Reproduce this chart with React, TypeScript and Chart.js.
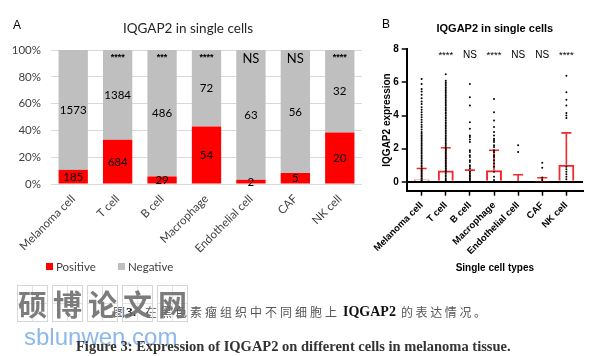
import React, { useEffect, useRef } from 'react';
import { Chart, registerables } from 'chart.js';
Chart.register(...registerables);

// ---------- Panel A data ----------
const cellTypes = ['Melanoma cell', 'T cell', 'B cell', 'Macrophage', 'Endothelial cell', 'CAF', 'NK cell'];
const positiveCounts = [185, 684, 29, 54, 2, 5, 20];
const negativeCounts = [1573, 1384, 486, 72, 63, 56, 32];
const sigA = ['', '****', '***', '****', 'NS', 'NS', '****'];
const pctTicks = [0, 20, 40, 60, 80, 100];

// ---------- Panel B data ----------
const meanExpr = [0.14, 0.68, 0.08, 0.7, 0.04, 0.02, 1.02];
const errTop = [0.8, 2.05, 0.7, 1.9, 0.42, 0.24, 2.95];
const sigB = ['', '****', 'NS', '****', 'NS', 'NS', '****'];
const exprTicks = [0, 2, 4, 6, 8];
const melanomaDots = [6.2, 5.9, 5.6, 5.45, 5.25, 5.05, 4.85, 4.7, 4.5, 4.35, 4.2, 4.05, 3.9, 3.75, 3.6, 3.45, 3.3, 3.15, 3.0, 2.9, 2.8, 2.7, 2.6, 2.5, 2.4, 2.3, 2.2, 2.1, 2.0, 1.9, 1.8, 1.7, 1.6, 1.5, 1.4, 1.3, 1.2, 1.1, 1.0, 0.9, 0.8, 0.7, 0.6, 0.5, 0.4, 0.3, 0.2, 0.1, 0.05];
const tCellDots = [6.5, 6.1, 6.0, 5.9, 5.8, 5.7, 5.6, 5.5, 5.4, 5.3, 5.2, 5.1, 5.0, 4.9, 4.8, 4.7, 4.6, 4.5, 4.4, 4.3, 4.2, 4.1, 4.0, 3.9, 3.8, 3.7, 3.6, 3.5, 3.4, 3.3, 3.2, 3.1, 3.0, 2.9, 2.8, 2.7, 2.6, 2.5, 2.4, 2.3, 2.2, 2.1, 2.0, 1.9, 1.8, 1.7, 1.6, 1.5, 1.4, 1.3, 1.2, 1.1, 1.0, 0.9, 0.8, 0.7, 0.6, 0.5, 0.4, 0.3, 0.2, 0.1, 0.05];
const bCellDots = [5.9, 5.1, 4.6, 3.6, 3.2, 2.8, 2.7, 2.55, 2.4, 1.9, 1.8, 1.6, 1.5, 1.3, 1.2, 1.0, 0.9, 0.8, 0.6, 0.5, 0.4, 0.3, 0.2, 0.1];
const macrophageDots = [5.0, 4.2, 3.7, 3.3, 3.0, 2.8, 2.6, 2.5, 2.4, 2.2, 2.1, 1.9, 1.8, 1.6, 1.5, 1.3, 1.1, 0.9, 0.6, 0.3, 0.1];
const endothelialDots = [2.2, 1.8];
const cafDots = [1.15, 0.85, 0.25, 0.1];
const nkDots = [6.4, 5.4, 4.95, 4.6, 4.15, 4.0, 3.85, 0.9, 0.75, 0.6, 0.45, 0.3, 0.15];
const dotGroups = [melanomaDots, tCellDots, bCellDots, macrophageDots, endothelialDots, cafDots, nkDots];

const watermarkChars = ['硕', '博', '论', '文', '网'];

const RED = '#ff0000';
const GRAY = '#bfbfbf';
const BOX_RED = '#ee2a2a';
const LATO = 'Lato, "Open Sans", sans-serif';
const ARIAL = '"Liberation Sans", Arial, sans-serif';

export default function App() {
  const refA = useRef<HTMLCanvasElement>(null);
  const refB = useRef<HTMLCanvasElement>(null);

  useEffect(() => {
    const posPct = positiveCounts.map((p, i) => (p / (p + negativeCounts[i])) * 100);
    const negPct = negativeCounts.map((n, i) => (n / (positiveCounts[i] + n)) * 100);

    const annotA = {
      id: 'annotA',
      afterDatasetsDraw(chart: any) {
        const ctx = chart.ctx;
        const ys = chart.scales.y;
        const xs = chart.scales.x;
        ctx.save();
        ctx.fillStyle = '#000';
        ctx.textAlign = 'center';
        ctx.textBaseline = 'middle';
        ctx.font = `11.5px ${LATO}`;
        [0, 1].forEach((di) => {
          const meta = chart.getDatasetMeta(di);
          const counts = di === 0 ? positiveCounts : negativeCounts;
          meta.data.forEach((bar: any, i: number) => {
            const p = bar.getProps(['x', 'y', 'base'], true);
            ctx.fillText(String(counts[i]), p.x, (p.y + p.base) / 2 + 0.5);
          });
        });
        sigA.forEach((s, i) => {
          if (!s) return;
          const x = xs.getPixelForValue(i);
          if (s === 'NS') {
            ctx.font = `13px ${LATO}`;
            ctx.textBaseline = 'middle';
            ctx.fillText(s, x, ys.getPixelForValue(93.5));
          } else {
            ctx.font = `bold 9px ${ARIAL}`;
            ctx.textBaseline = 'alphabetic';
            ctx.fillText(s, x, ys.getPixelForValue(92.5));
          }
        });
        ctx.restore();
      },
      afterDraw(chart: any) {
        const ctx = chart.ctx;
        ctx.save();
        ctx.fillStyle = '#000';
        ctx.textBaseline = 'middle';
        ctx.textAlign = 'left';
        ctx.font = `12px ${ARIAL}`;
        ctx.fillText('A', 13, 26);
        ctx.textAlign = 'center';
        ctx.fillStyle = '#262626';
        ctx.font = `13.5px ${LATO}`;
        ctx.fillText('IQGAP2 in single cells', 188, 29);
        // legend
        ctx.textAlign = 'left';
        ctx.font = `11.5px ${LATO}`;
        ctx.fillStyle = RED;
        ctx.fillRect(46, 263, 7, 7);
        ctx.fillStyle = '#404040';
        ctx.fillText('Positive', 56, 267);
        ctx.fillStyle = GRAY;
        ctx.fillRect(118, 263, 7, 7);
        ctx.fillStyle = '#404040';
        ctx.fillText('Negative', 128, 267);
        ctx.restore();
      },
    };

    const chartA = new Chart(refA.current as HTMLCanvasElement, {
      type: 'bar',
      data: {
        labels: cellTypes,
        datasets: [
          { label: 'Positive', data: posPct, backgroundColor: RED, borderWidth: 0, barPercentage: 0.66, categoryPercentage: 1 },
          { label: 'Negative', data: negPct, backgroundColor: GRAY, borderWidth: 0, barPercentage: 0.66, categoryPercentage: 1 },
        ],
      },
      options: {
        responsive: false,
        animation: false,
        devicePixelRatio: 1,
        events: [],
        layout: { padding: { top: 50, right: 10, left: 0, bottom: 0 } },
        plugins: { legend: { display: false }, tooltip: { enabled: false }, title: { display: false } },
        scales: {
          x: {
            stacked: true,
            grid: { display: false, drawTicks: false },
            border: { display: false },
            ticks: { autoSkip: false, maxRotation: 45, minRotation: 45, padding: 8, color: '#404040', font: { family: LATO, size: 11.5 } },
            afterFit: (s: any) => { s.height = 101; s.paddingLeft = 0; s.paddingRight = 0; },
          },
          y: {
            stacked: true,
            min: 0,
            max: 100,
            afterBuildTicks: (s: any) => { s.ticks = pctTicks.map((v) => ({ value: v })); },
            ticks: { callback: (v: any) => v + '%', padding: 10, color: '#404040', font: { family: LATO, size: 11.5 } },
            grid: { color: '#d9d9d9', drawTicks: false },
            border: { display: false },
            afterFit: (s: any) => { s.width = 51; s.paddingTop = 0; s.paddingBottom = 0; },
          },
        },
      } as any,
      plugins: [annotA],
    });

    const annotB = {
      id: 'annotB',
      beforeDatasetsDraw(chart: any) {
        const ctx = chart.ctx;
        const xs = chart.scales.x;
        const ys = chart.scales.y;
        ctx.save();
        ctx.strokeStyle = BOX_RED;
        ctx.lineWidth = 1.6;
        meanExpr.forEach((m, i) => {
          const x = xs.getPixelForValue(i);
          const y0 = ys.getPixelForValue(m);
          const y1 = ys.getPixelForValue(errTop[i]);
          ctx.beginPath();
          ctx.moveTo(x, y0);
          ctx.lineTo(x, y1);
          ctx.moveTo(x - 5, y1);
          ctx.lineTo(x + 5, y1);
          ctx.stroke();
        });
        ctx.restore();
      },
      afterDraw(chart: any) {
        const ctx = chart.ctx;
        const xs = chart.scales.x;
        const ys = chart.scales.y;
        const ca = chart.chartArea;
        ctx.save();
        ctx.fillStyle = '#000';
        ctx.textBaseline = 'middle';
        ctx.textAlign = 'left';
        ctx.font = `12px ${ARIAL}`;
        ctx.fillText('B', 17, 25);
        ctx.textAlign = 'center';
        ctx.font = `bold 11px ${ARIAL}`;
        ctx.fillText('IQGAP2 in single cells', (ca.left + ca.right) / 2, 29);
        ctx.textBaseline = 'alphabetic';
        sigB.forEach((s, i) => {
          if (!s) return;
          const x = xs.getPixelForValue(i);
          ctx.font = s === 'NS' ? `10px ${ARIAL}` : `9.5px ${ARIAL}`;
          ctx.fillText(s, x, ys.getPixelForValue(7.5));
        });
        ctx.restore();
      },
    };

    const dots: any[] = [];
    dotGroups.forEach((arr, i) => arr.forEach((v) => dots.push({ x: i, y: v })));

    const chartB = new Chart(refB.current as HTMLCanvasElement, {
      type: 'bar',
      data: {
        datasets: [
          { type: 'scatter', data: dots, pointRadius: 1, pointBackgroundColor: '#000', pointBorderWidth: 0, order: 0 } as any,
          {
            type: 'bar',
            data: meanExpr.map((m, i) => ({ x: i, y: m })),
            backgroundColor: 'rgba(255,255,255,0)',
            borderColor: BOX_RED,
            borderWidth: 2,
            barPercentage: 0.66,
            categoryPercentage: 1,
            order: 1,
          } as any,
        ],
      },
      options: {
        responsive: false,
        animation: false,
        devicePixelRatio: 1,
        events: [],
        layout: { padding: { top: 49.3, right: 31, left: 0, bottom: 11 } },
        plugins: { legend: { display: false }, tooltip: { enabled: false }, title: { display: false } },
        scales: {
          x: {
            type: 'linear',
            min: -0.62,
            max: 6.69,
            offset: false,
            afterBuildTicks: (s: any) => { s.ticks = cellTypes.map((_, i) => ({ value: i })); },
            ticks: {
              autoSkip: false,
              maxRotation: 45,
              minRotation: 45,
              padding: 4,
              color: '#000',
              font: { family: ARIAL, size: 9.5, weight: 'bold' },
              callback: (v: any) => cellTypes[v],
            },
            grid: { drawOnChartArea: false, tickColor: '#000', tickLength: 5, tickWidth: 1.5, offset: false },
            border: { color: '#000', width: 2 },
            title: { display: true, text: 'Single cell types', color: '#000', font: { family: ARIAL, size: 10, weight: 'bold' }, padding: { top: 0, bottom: 0 } },
            afterFit: (s: any) => { s.height = 83.3; s.paddingLeft = 0; s.paddingRight = 0; },
          },
          y: {
            min: -0.54,
            max: 8,
            afterBuildTicks: (s: any) => { s.ticks = exprTicks.map((v) => ({ value: v })); },
            ticks: { padding: 3, color: '#000', font: { family: ARIAL, size: 10, weight: 'bold' } },
            grid: {
              drawOnChartArea: true,
              color: (c: any) => (c.tick && c.tick.value === 0 ? '#000' : 'rgba(0,0,0,0)'),
              lineWidth: 2,
              tickColor: '#000',
              tickLength: 5,
              tickWidth: 1.5,
            },
            border: { color: '#000', width: 2 },
            title: { display: true, text: 'IQGAP2 expression', color: '#000', font: { family: ARIAL, size: 10, weight: 'bold' }, padding: { top: 16, bottom: 0 } },
            afterFit: (s: any) => { s.width = 41.7; s.paddingTop = 0; s.paddingBottom = 0; },
          },
        },
      } as any,
      plugins: [annotB],
    });

    return () => {
      chartA.destroy();
      chartB.destroy();
    };
  }, []);

  const cn = '"Noto Sans CJK SC", sans-serif';
  const serif = '"Liberation Serif", "Times New Roman", serif';
  const capRow = { position: 'absolute' as const, top: 303, whiteSpace: 'nowrap' as const, lineHeight: '18px' };

  return (
    <div style={{ position: 'fixed', left: 0, top: 0, width: 614, height: 356, background: '#fff', overflow: 'hidden' }}>
      <canvas ref={refA} width={372} height={285} style={{ position: 'absolute', left: 0, top: 0, width: 372, height: 285 }} />
      <canvas ref={refB} width={249} height={285} style={{ position: 'absolute', left: 365, top: 0, width: 249, height: 285 }} />

      <span style={{ ...capRow, left: 113, fontFamily: cn, fontSize: 12, color: '#555' }}>图</span>
      <span style={{ ...capRow, left: 126, fontFamily: serif, fontWeight: 'bold', fontSize: 13.5, color: '#222' }}>3.</span>
      <span style={{ ...capRow, left: 145, fontFamily: cn, fontSize: 12, color: '#555', letterSpacing: 3.0 }}>在黑色素瘤组织中不同细胞上</span>
      <span style={{ ...capRow, left: 343, fontFamily: serif, fontWeight: 'bold', fontSize: 14, color: '#111' }}>IQGAP2</span>
      <span style={{ ...capRow, left: 401, fontFamily: cn, fontSize: 12, color: '#555', letterSpacing: 2.6 }}>的表达情况。</span>

      {watermarkChars.map((c, i) => (
        <div
          key={i}
          style={{
            position: 'absolute',
            left: 17 + i * 35,
            top: 285,
            width: 31,
            height: 37,
            boxSizing: 'border-box',
            border: '1px solid #d6d6d6',
            backgroundImage: 'linear-gradient(#e2e2e2, #e2e2e2), linear-gradient(#e2e2e2, #e2e2e2)',
            backgroundSize: '1px 100%, 100% 1px',
            backgroundPosition: 'center, center',
            backgroundRepeat: 'no-repeat',
            display: 'flex',
            alignItems: 'center',
            justifyContent: 'center',
            fontFamily: cn,
            fontWeight: 'bold',
            fontSize: 29,
            lineHeight: 1,
            color: 'rgba(110,110,110,0.9)',
          }}
        >
          {c}
        </div>
      ))}

      <div style={{ position: 'absolute', left: 24, top: 325, fontFamily: ARIAL, fontSize: 24, lineHeight: '24px', color: '#8db8ea', whiteSpace: 'nowrap' }}>sblunwen.com</div>

      <div style={{ position: 'absolute', left: 76, top: 337, fontFamily: serif, fontWeight: 'bold', fontSize: 14.5, lineHeight: '18px', color: '#333', whiteSpace: 'nowrap' }}>
        Figure 3: Expression of IQGAP2 on different cells in melanoma tissue.
      </div>
    </div>
  );
}
